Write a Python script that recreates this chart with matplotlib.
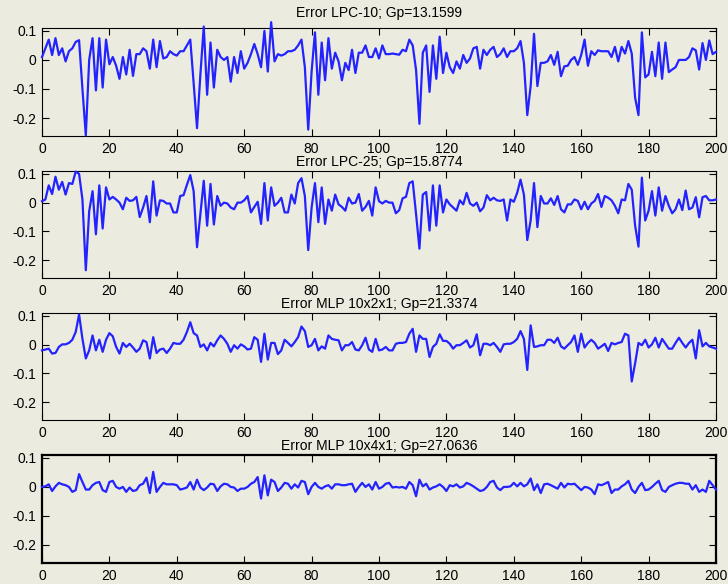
import matplotlib
matplotlib.use('Agg')
import matplotlib.pyplot as plt
import numpy as np

plt.rcParams['font.family'] = ['Liberation Sans', 'DejaVu Sans']
plt.rcParams['axes.unicode_minus'] = False

# prediction error signals, one sample per step (0..200)
err_lpc10 = [
    0.01, 0.04, 0.07, 0.017, 0.075, 0.017, 0.04, -0.005, 0.03, 0.04,
    0.062, 0.068, -0.1, -0.26, 0.0, 0.075, -0.105, 0.075, -0.095, 0.07,
    -0.015, 0.01, -0.02, -0.065, 0.01, -0.05, 0.035, -0.055, 0.02, 0.02,
    0.04, 0.03, -0.03, 0.07, -0.025, 0.065, 0.005, 0.01, 0.03, 0.02,
    0.015, 0.03, 0.03, 0.05, 0.07, -0.08, -0.235, -0.05, 0.115, -0.12,
    0.06, -0.095, 0.035, 0.01, 0.0, 0.01, -0.075, 0.01, -0.045, 0.03,
    -0.03, -0.01, 0.02, 0.055, 0.02, -0.025, 0.10, -0.04, 0.13, -0.005,
    0.02, 0.015, 0.02, 0.03, 0.03, 0.035, 0.05, 0.07, -0.025, -0.24,
    -0.04, 0.095, -0.12, 0.06, -0.07, 0.075, -0.03, 0.025, -0.005, -0.07,
    -0.01, -0.035, 0.035, -0.045, 0.025, 0.025, 0.05, 0.01, 0.01, 0.04,
    0.005, 0.05, 0.02, 0.02, 0.022, 0.02, 0.018, 0.035, 0.03, 0.07,
    0.05, -0.035, -0.22, 0.025, 0.05, -0.11, 0.05, -0.065, 0.08, -0.045,
    0.025, -0.025, -0.045, -0.005, -0.03, 0.017, -0.01, 0.005, 0.04, 0.045,
    -0.03, 0.035, 0.017, 0.035, 0.045, 0.01, 0.02, 0.04, 0.01, 0.03,
    0.03, 0.04, 0.065, -0.01, -0.19, -0.09, 0.09, -0.09, -0.01, -0.01,
    -0.005, 0.017, -0.017, 0.028, -0.056, -0.022, -0.02, 0.0, 0.01, -0.017,
    0.017, 0.07, -0.02, 0.03, 0.017, 0.033, 0.03, 0.03, 0.03, 0.01,
    0.045, -0.005, 0.045, 0.022, 0.065, 0.022, -0.13, -0.19, 0.095, -0.06,
    -0.05, 0.028, -0.056, 0.06, -0.065, 0.06, -0.042, -0.033, -0.025, 0.0,
    0.0, 0.0, 0.01, 0.04, 0.033, -0.033, 0.058, 0.0, 0.067, 0.02,
    0.028,
]

err_lpc25 = [
    0.005, 0.011, 0.06, 0.03, 0.09, 0.045, 0.072, 0.028, 0.068, 0.065,
    0.108, 0.1, 0.011, -0.235, -0.03, 0.04, -0.11, 0.06, -0.09, 0.053,
    0.011, 0.02, 0.011, 0.0, -0.023, 0.017, 0.006, 0.008, 0.02, -0.05,
    -0.017, 0.023, -0.068, 0.074, -0.045, 0.008, 0.006, -0.003, -0.003, -0.034,
    -0.034, 0.023, 0.026, 0.062, 0.096, 0.04, -0.155, -0.04, 0.076, -0.08,
    0.065, -0.076, 0.023, -0.011, 0.0, -0.003, -0.017, -0.023, 0.0, 0.0,
    0.008, 0.023, -0.034, -0.015, 0.003, -0.074, 0.068, -0.062, 0.053, -0.011,
    0.0, 0.017, -0.034, -0.034, 0.028, -0.003, 0.068, 0.085, 0.023, -0.165,
    -0.017, 0.068, -0.068, 0.053, -0.074, 0.011, -0.028, 0.028, -0.006, -0.015,
    -0.028, 0.017, -0.003, 0.0, 0.03, -0.028, -0.015, 0.006, -0.045, 0.053,
    0.005, -0.003, 0.006, 0.0, 0.0, -0.037, -0.026, 0.015, 0.02, 0.068,
    0.074, -0.04, -0.16, 0.028, 0.037, -0.097, 0.06, -0.08, 0.06, -0.034,
    0.011, -0.006, -0.017, -0.028, 0.008, -0.006, 0.034, -0.003, -0.011, 0.0,
    -0.03, -0.017, 0.026, 0.008, 0.017, 0.008, 0.006, 0.011, -0.062, 0.011,
    0.003, 0.034, 0.08, 0.028, -0.13, -0.062, 0.068, -0.085, 0.023, -0.003,
    -0.003, 0.015, -0.008, 0.023, -0.023, -0.034, -0.006, -0.006, 0.011, 0.006,
    -0.023, 0.003, -0.023, -0.003, 0.006, 0.03, -0.015, 0.023, 0.017, 0.008,
    -0.011, -0.037, 0.011, 0.008, 0.065, 0.045, -0.08, -0.153, 0.087, -0.062,
    -0.028, 0.04, -0.045, 0.053, -0.028, 0.023, -0.011, -0.037, -0.023, 0.011,
    -0.026, 0.042, -0.023, -0.017, 0.019, -0.051, 0.019, 0.023, 0.008, 0.008,
    0.011,
]

err_mlp2 = [
    -0.02, -0.017, -0.014, -0.031, -0.029, -0.008, 0.001, 0.001, 0.006, 0.017,
    0.044, 0.105, 0.02, -0.048, -0.02, 0.032, -0.02, 0.017, -0.025, 0.017,
    0.04, 0.029, -0.008, -0.031, 0.006, -0.008, 0.003, -0.01, -0.025, -0.014,
    0.015, 0.009, -0.048, 0.026, -0.029, -0.017, -0.014, -0.029, -0.014, 0.006,
    0.003, 0.003, 0.017, 0.044, 0.078, 0.04, 0.032, -0.008, 0.001, -0.02,
    0.006, -0.006, 0.015, 0.032, 0.02, 0.003, -0.025, -0.002, -0.014, 0.001,
    -0.006, -0.017, -0.014, 0.026, 0.017, -0.06, 0.038, -0.052, 0.006, 0.006,
    -0.033, -0.02, 0.017, 0.006, -0.006, 0.009, 0.026, 0.063, 0.047, -0.008,
    -0.002, 0.02, -0.02, -0.006, -0.014, 0.032, 0.02, 0.017, 0.015, -0.02,
    -0.002, -0.002, 0.009, -0.017, -0.02, -0.002, 0.024, -0.017, -0.025, 0.02,
    -0.02, -0.017, -0.008, -0.02, -0.02, 0.003, 0.006, 0.006, 0.009, 0.038,
    0.055, -0.025, 0.032, 0.02, 0.02, -0.043, -0.008, 0.003, 0.036, 0.013,
    0.013, 0.003, -0.014, -0.002, -0.002, 0.006, 0.015, -0.01, -0.002, 0.036,
    -0.037, 0.003, 0.003, -0.002, 0.006, -0.008, -0.025, 0.001, 0.003, 0.003,
    0.009, 0.02, 0.047, 0.02, -0.088, 0.067, -0.008, -0.006, -0.002, -0.002,
    0.017, 0.017, 0.006, 0.024, -0.006, -0.014, -0.002, 0.009, 0.032, -0.025,
    0.038, -0.01, 0.006, 0.017, 0.006, -0.014, -0.006, 0.003, -0.022, 0.006,
    0.001, 0.006, 0.009, 0.038, 0.032, -0.128, -0.065, 0.006, -0.002, 0.017,
    -0.01, 0.001, 0.024, -0.01, 0.02, 0.003, -0.014, -0.014, 0.006, 0.024,
    0.006, -0.01, 0.006, 0.017, -0.048, 0.05, -0.006, 0.006, -0.006, -0.01,
    -0.014,
]

err_mlp4 = [
    0.0, 0.002, 0.009, -0.014, 0.002, 0.014, 0.009, 0.006, 0.0, -0.017,
    -0.011, 0.044, 0.017, -0.009, -0.009, 0.006, 0.014, 0.017, -0.011, -0.017,
    0.017, 0.021, 0.0, -0.006, 0.0, -0.017, -0.002, -0.014, -0.011, 0.006,
    0.011, 0.032, -0.021, 0.052, -0.017, 0.0, 0.014, 0.009, 0.009, 0.009,
    0.006, -0.009, -0.006, -0.002, 0.017, -0.009, 0.025, -0.002, -0.011, -0.002,
    0.011, 0.009, -0.014, 0.002, 0.011, 0.009, 0.0, -0.002, -0.014, -0.006,
    -0.006, 0.0, 0.011, 0.017, 0.034, -0.04, 0.04, -0.029, 0.025, 0.017,
    -0.014, -0.002, 0.014, 0.011, -0.006, 0.009, -0.002, 0.021, 0.017, -0.025,
    0.0, 0.014, 0.0, -0.006, 0.002, 0.006, -0.006, 0.009, 0.009, 0.006,
    0.006, 0.009, 0.011, -0.017, 0.0, 0.014, 0.0, 0.009, -0.009, 0.017,
    -0.006, 0.0, 0.011, 0.014, -0.002, 0.0, -0.002, 0.0, -0.006, 0.017,
    0.006, -0.032, 0.025, 0.002, 0.011, -0.009, -0.002, 0.002, 0.009, 0.0,
    -0.014, 0.006, 0.002, 0.009, -0.002, 0.002, 0.014, 0.009, 0.002, -0.006,
    -0.014, -0.011, 0.0, 0.017, 0.021, -0.002, -0.011, 0.0, 0.0, 0.002,
    0.014, 0.002, 0.014, 0.002, 0.009, 0.029, -0.011, 0.009, -0.021, 0.009,
    0.011, 0.006, 0.0, -0.006, 0.014, -0.002, 0.011, 0.009, 0.011, 0.0,
    -0.011, 0.0, -0.002, -0.009, -0.025, 0.009, 0.006, 0.011, 0.017, -0.021,
    -0.009, -0.009, 0.002, 0.009, 0.021, -0.009, -0.021, 0.0, 0.014, -0.011,
    -0.009, 0.0, 0.011, 0.021, -0.011, -0.017, 0.0, 0.006, 0.011, 0.014,
    0.014, 0.011, 0.011, -0.009, 0.006, -0.017, -0.009, -0.017, 0.021, 0.006,
    -0.009,
]

titles = ['Error LPC-10; Gp=13.1599',
          'Error LPC-25; Gp=15.8774',
          'Error MLP 10x2x1; Gp=21.3374',
          'Error MLP 10x4x1; Gp=27.0636']
series = [err_lpc10, err_lpc25, err_mlp2, err_mlp4]

xticks = list(range(0, 201, 20))
yticks = [-0.2, -0.1, 0, 0.1]
ytick_labels = ['-0.2', '-0.1', '0', '0.1']

bg = '#ecebdf'
W, H = 728., 584.
# axes boxes in pixels: (top, bottom)
boxes = [(28, 136), (171, 278), (313, 420), (455, 563)]
title_pads = [7.7, 3.3, 3.5, 3.3]

fig = plt.figure(figsize=(W / 100, H / 100), dpi=100, facecolor=bg)

for k, (err, title) in enumerate(zip(series, titles)):
    assert len(err) == 201
    top, bot = boxes[k]
    ax = fig.add_axes([42 / W, (H - bot) / H, 674 / W, (bot - top) / H])
    ax.set_facecolor('none')
    n = np.arange(len(err))
    ax.plot(n, err, color='#2323ff', lw=1.6, clip_on=False, zorder=3)
    ax.set_xlim(0, 200)
    ax.set_ylim(-0.262, 0.11)
    ax.set_xticks(xticks)
    ax.set_yticks(yticks)
    ax.set_yticklabels(ytick_labels)
    ax.tick_params(direction='in', top=True, right=True, length=5,
                   width=0.8, labelsize=10, pad=4)
    ax.set_title(title, fontsize=10, pad=title_pads[k])
    lw = 1.6 if k == 3 else 0.8
    for sp in ax.spines.values():
        sp.set_linewidth(lw)

fig.savefig('out.png', dpi=100, facecolor=bg)
